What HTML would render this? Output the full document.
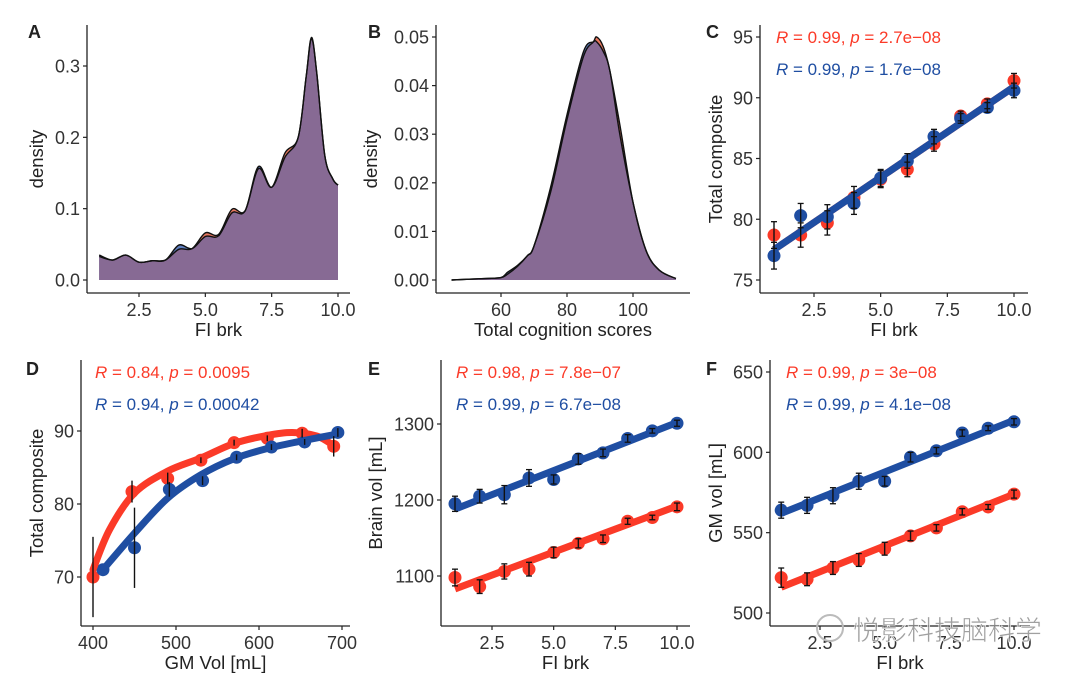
<!DOCTYPE html>
<html><head><meta charset="utf-8">
<style>
html,body{margin:0;padding:0;background:#fff;}
svg{display:block;font-family:"Liberation Sans",Arial,sans-serif;}
.tk{font-size:18px;fill:#333;}
.lab{font-size:18.5px;fill:#222;}
.pl{font-size:18px;font-weight:bold;fill:#222;}
.ann{font-size:17px;}
</style></head>
<body>
<svg id="fig" width="1080" height="677" viewBox="0 0 1080 677" xmlns="http://www.w3.org/2000/svg">
<g id="root"></g>
<text x="853" y="640" font-size="27" fill="#888" fill-opacity="0.8" stroke="#fff" stroke-width="0.6" font-family="'Liberation Sans','Noto Sans CJK SC',sans-serif">悦影科技脑科学</text>
<circle cx="830" cy="628" r="13" fill="none" stroke="#bbb" stroke-width="2"/>
</svg>
<script>
// ---- Panel A data (density of FI brk) ----
const aX = [1,1.5,2,2.5,3,3.5,4,4.5,5,5.5,6,6.5,7,7.5,8,8.5,8.8,9,9.2,9.5,9.8,10];
const aRed = [0.033,0.028,0.035,0.025,0.027,0.028,0.043,0.044,0.066,0.064,0.099,0.097,0.156,0.130,0.178,0.200,0.285,0.338,0.290,0.175,0.142,0.133];
const aBlue = [0.035,0.028,0.035,0.025,0.027,0.028,0.049,0.044,0.061,0.062,0.094,0.097,0.159,0.130,0.172,0.200,0.285,0.340,0.290,0.175,0.142,0.133];
const aYTicks = [0,0.1,0.2,0.3];
const aXTicks = [2.5,5,7.5,10];
// ---- Panel B data ----
const bX = [45,55,60,62,65,68,70,75,80,85,88,89,91,93,96,100,104,108,113];
const bRed = [0,0.0003,0.0005,0.0012,0.0028,0.005,0.007,0.018,0.033,0.046,0.049,0.050,0.048,0.043,0.032,0.016,0.006,0.002,0.0003];
const bBlue = [0,0.0003,0.0005,0.0016,0.003,0.005,0.007,0.019,0.034,0.047,0.049,0.049,0.047,0.043,0.030,0.016,0.006,0.002,0.0003];
const bYTicks = [0,0.01,0.02,0.03,0.04,0.05];
const bXTicks = [60,80,100];
// ---- Panel C data ----
const fi = [1,2,3,4,5,6,7,8,9,10];
const cRed = [78.7,78.7,79.7,81.8,83.3,84.1,86.2,88.5,89.5,91.4];
const cBlue = [77.0,80.3,80.2,81.3,83.4,84.8,86.8,88.3,89.2,90.6];
const cErr = [1.1,1.0,1.0,0.9,0.7,0.6,0.6,0.4,0.4,0.6];
const cFit = [77.5,90.9];
const cYTicks = [75,80,85,90,95];
// ---- Panel D data ----
const dRedX = [400,447,490,530,570,610,652,690];
const dRedY = [70,81.7,83.5,86,88.4,89,89.7,87.9];
const dRedErr = [5.5,1.5,0.8,0.4,0.4,0.4,0.6,1.4];
const dBlueX = [412,450,492,532,573,615,655,695];
const dBlueY = [71,74,82,83.2,86.4,87.8,88.5,89.8];
const dBlueErr = [0,5.5,1,0.6,0.4,0.4,0.4,0.6];
const dRedCurveX = [400,420,450,490,530,570,610,640,670,690];
const dRedCurveY = [71,76.5,81.5,84.5,86.3,88.3,89.4,89.8,89.3,88];
const dBlueCurveX = [412,450,490,530,570,610,650,695];
const dBlueCurveY = [71,76,80.8,84,86.2,87.6,88.6,89.6];
const dYTicks = [70,80,90];
const dXTicks = [400,500,600,700];
// ---- Panel E data ----
const eRed = [1098,1086,1106,1109,1131,1143,1149,1172,1177,1191];
const eBlue = [1195,1205,1207,1229,1227,1254,1262,1281,1291,1301];
const eErrR = [11,9,10,9,7,6,5,4,3,5];
const eErrB = [10,9,12,11,6,7,5,5,3,4];
const eFitR = [1083,1192];
const eFitB = [1188,1302];
const eYTicks = [1100,1200,1300];
// ---- Panel F data ----
const fRed = [522,521,528,533,540,548,553,563,566,574];
const fBlue = [564,567,573,582,582,597,601,612,615,619];
const fErrR = [6,4,4,4,4,3,2,2,1.5,2.5];
const fErrB = [5,5,5,5,3,3,2,2,1.5,2];
const fFitR = [516,574];
const fFitB = [562,620];
const fYTicks = [500,550,600,650];
const fiTicks = [2.5,5,7.5,10];

const RED='#fb3a28', BLUE='#1f4ea2', PURPLE='#876a94';
const NS='http://www.w3.org/2000/svg';
const root=document.getElementById('root');
function el(tag,attrs,parent,text){const e=document.createElementNS(NS,tag);for(const k in attrs)e.setAttribute(k,attrs[k]);if(text!==undefined)e.textContent=text;(parent||root).appendChild(e);return e;}
function lin(d0,d1,r0,r1){return v=>r0+(v-d0)*(r1-r0)/(d1-d0);}
function smooth(pts){let d='M'+pts[0][0]+','+pts[0][1];for(let i=0;i<pts.length-1;i++){const p0=pts[i-1]||pts[i],p1=pts[i],p2=pts[i+1],p3=pts[i+2]||p2;d+=' C'+(p1[0]+(p2[0]-p0[0])/6)+','+(p1[1]+(p2[1]-p0[1])/6)+' '+(p2[0]-(p3[0]-p1[0])/6)+','+(p2[1]-(p3[1]-p1[1])/6)+' '+p2[0]+','+p2[1];}return d;}

function axes(g,o){
  const ax=el('line',{x1:o.x0,y1:o.top,x2:o.x0,y2:o.yb,stroke:'#222','stroke-width':1.3},g);
  
  const bx=el('line',{x1:o.x0,y1:o.yb,x2:o.right,y2:o.yb,stroke:'#222','stroke-width':1.3},g);
  
  o.yt.forEach(v=>{const y=o.sy(v);
    el('line',{x1:o.x0-4,y1:y,x2:o.x0,y2:y,stroke:'#222','stroke-width':1.2},g);
    const t=el('text',{x:o.x0-7,y:y+6.5,'text-anchor':'end',class:'tk'},g,o.yf(v));
    });
  o.xt.forEach(v=>{const x=o.sx(v);
    el('line',{x1:x,y1:o.yb,x2:x,y2:o.yb+4,stroke:'#222','stroke-width':1.2},g);
    const t=el('text',{x:x,y:o.yb+23,'text-anchor':'middle',class:'tk'},g,o.xf(v));
    });
  const xl=el('text',{x:(o.x0+o.right)/2,y:o.yb+43,'text-anchor':'middle',class:'lab'},g,o.xlab);
  
  const yc=(o.top+o.yb)/2;
  const yl=el('text',{x:o.ylx,y:yc,'text-anchor':'middle',class:'lab',transform:'rotate(-90 '+o.ylx+' '+yc+')'},g,o.ylab);
  
  const pl=el('text',{x:o.lx,y:o.ly,class:'pl'},g,o.letter);
  
}
function ann(g,x,y,color,r,p){
  const t=el('text',{x:x,y:y,class:'ann',fill:color},g);
  
  el('tspan',{'font-style':'italic'},t,'R');el('tspan',{},t,' = '+r+', ');el('tspan',{'font-style':'italic'},t,'p');el('tspan',{},t,' = '+p);
}
const f1=v=>v.toFixed(1), f2=v=>v.toFixed(2), f0=v=>String(v);

// Panel A
(function(){const g=el('g',{});
  const sx=lin(2.5,10,139,338), sy=lin(0,0.3,280,66);
  [[aRed,'#e8785f'],[aBlue,'#5f7fbf']].forEach(([arr,c],k)=>{
    const pts=aX.map((x,i)=>[sx(x),sy(arr[i])]);
    const d=smooth(pts)+' L'+sx(10)+','+sy(0)+' L'+sx(1)+','+sy(0)+' Z';
    const p=el('path',{d:d,fill:c},g);});
  const ov=aX.map((x,i)=>[sx(x),sy(Math.min(aRed[i],aBlue[i]))]);
  const po=el('path',{d:smooth(ov)+' L'+sx(10)+','+sy(0)+' L'+sx(1)+','+sy(0)+' Z',fill:PURPLE},g);
  
  [aRed,aBlue].forEach(arr=>{const l=el('path',{d:smooth(aX.map((x,i)=>[sx(x),sy(arr[i])])),fill:'none',stroke:'#111','stroke-width':1.4},g);});
  axes(g,{x0:87,top:25,yb:293,right:350,sx,sy,yt:aYTicks,xt:aXTicks,yf:f1,xf:f1,xlab:'FI brk',ylab:'density',ylx:43,letter:'A',lx:28,ly:38});
})();
// Panel B
(function(){const g=el('g',{});
  const sx=lin(60,100,501,633), sy=lin(0,0.05,280,37);
  [[bRed,'#e8785f'],[bBlue,'#5f7fbf']].forEach(([arr,c],k)=>{
    const pts=bX.map((x,i)=>[sx(x),sy(arr[i])]);
    const p=el('path',{d:smooth(pts)+' L'+sx(113)+','+sy(0)+' L'+sx(45)+','+sy(0)+' Z',fill:c},g);});
  const ov=bX.map((x,i)=>[sx(x),sy(Math.min(bRed[i],bBlue[i]))]);
  const po=el('path',{d:smooth(ov)+' L'+sx(113)+','+sy(0)+' L'+sx(45)+','+sy(0)+' Z',fill:PURPLE},g);
  
  [bRed,bBlue].forEach(arr=>{const l=el('path',{d:smooth(bX.map((x,i)=>[sx(x),sy(arr[i])])),fill:'none',stroke:'#111','stroke-width':1.4},g);});
  axes(g,{x0:436,top:25,yb:293,right:690,sx,sy,yt:bYTicks,xt:bXTicks,yf:f2,xf:f0,xlab:'Total cognition scores',ylab:'density',ylx:377,letter:'B',lx:368,ly:38});
})();

function errbar(g,x,y0,y1,cap){const e=el('g',{},g);
  el('line',{x1:x,y1:y0,x2:x,y2:y1,stroke:'#111','stroke-width':1.4},e);
  if(cap){el('line',{x1:x-3,y1:y0,x2:x+3,y2:y0,stroke:'#111','stroke-width':1.3},e);el('line',{x1:x-3,y1:y1,x2:x+3,y2:y1,stroke:'#111','stroke-width':1.3},e);}}
function dot(g,x,y,c,name){const d=el('circle',{cx:x,cy:y,r:6.5,fill:c},g);}
function fitline(g,sx,sy,f,c,name){const l=el('line',{x1:sx(1),y1:sy(f[0]),x2:sx(10),y2:sy(f[1]),stroke:c,'stroke-width':7,'stroke-linecap':'butt'},g);}
function linPanel(o){const g=el('g',{});
  const sx=o.sx,sy=o.sy;
  fi.forEach((x,i)=>dot(g,sx(x),sy(o.red[i]),RED,'point-red'));
  fitline(g,sx,sy,o.fitR,RED,'fit-line-red');
  fi.forEach((x,i)=>dot(g,sx(x),sy(o.blue[i]),BLUE,'point-blue'));
  fitline(g,sx,sy,o.fitB,BLUE,'fit-line-blue');
  fi.forEach((x,i)=>{errbar(g,sx(x),sy(o.red[i]-o.errR[i]),sy(o.red[i]+o.errR[i]),true);errbar(g,sx(x),sy(o.blue[i]-o.errB[i]),sy(o.blue[i]+o.errB[i]),true);});
  axes(g,o.ax);
  ann(g,o.annX,o.annY,RED,o.rR,o.pR);ann(g,o.annX,o.annY+32,BLUE,o.rB,o.pB);
}
// Panel C
(function(){const sx=lin(2.5,10,814,1014), sy=lin(75,95,280,37);
  linPanel({name:'panel-c',sx,sy,red:cRed,blue:cBlue,errR:cErr,errB:cErr,fitR:cFit,fitB:cFit,
    ax:{x0:760,top:25,yb:293,right:1028,sx,sy,yt:cYTicks,xt:fiTicks,yf:f0,xf:f1,xlab:'FI brk',ylab:'Total composite',ylx:722,letter:'C',lx:706,ly:38},
    annX:776,annY:43,rR:'0.99',pR:'2.7e\u221208',rB:'0.99',pB:'1.7e\u221208'});})();
// Panel E
(function(){const sx=lin(2.5,10,492,677), sy=lin(1100,1300,576,424);
  linPanel({name:'panel-e',sx,sy,red:eRed,blue:eBlue,errR:eErrR,errB:eErrB,fitR:eFitR,fitB:eFitB,
    ax:{x0:441,top:360,yb:626,right:690,sx,sy,yt:eYTicks,xt:fiTicks,yf:f0,xf:f1,xlab:'FI brk',ylab:'Brain vol [mL]',ylx:382,letter:'E',lx:368,ly:375},
    annX:456,annY:378,rR:'0.98',pR:'7.8e\u221207',rB:'0.99',pB:'6.7e\u221208'});})();
// Panel F
(function(){const sx=lin(2.5,10,820,1014), sy=lin(500,650,613,372);
  linPanel({name:'panel-f',sx,sy,red:fRed,blue:fBlue,errR:fErrR,errB:fErrB,fitR:fFitR,fitB:fFitB,
    ax:{x0:770,top:360,yb:626,right:1030,sx,sy,yt:fYTicks,xt:fiTicks,yf:f0,xf:f1,xlab:'FI brk',ylab:'GM vol [mL]',ylx:722,letter:'F',lx:706,ly:375},
    annX:786,annY:378,rR:'0.99',pR:'3e\u221208',rB:'0.99',pB:'4.1e\u221208'});})();
// Panel D
(function(){const g=el('g',{});
  const sx=lin(400,700,93,342), sy=lin(70,90,577,431);
  dRedX.forEach((x,i)=>dot(g,sx(x),sy(dRedY[i]),RED,'point-red'));
  dBlueX.forEach((x,i)=>dot(g,sx(x),sy(dBlueY[i]),BLUE,'point-blue'));
  const rc=el('path',{d:smooth(dRedCurveX.map((x,i)=>[sx(x),sy(dRedCurveY[i])])),fill:'none',stroke:RED,'stroke-width':7,'stroke-linecap':'round'},g);
  
  const bc=el('path',{d:smooth(dBlueCurveX.map((x,i)=>[sx(x),sy(dBlueCurveY[i])])),fill:'none',stroke:BLUE,'stroke-width':7,'stroke-linecap':'round'},g);
  
  dRedX.forEach((x,i)=>{if(dRedErr[i])errbar(g,sx(x),sy(dRedY[i]-dRedErr[i]),sy(dRedY[i]+dRedErr[i]),false);});
  dBlueX.forEach((x,i)=>{if(dBlueErr[i])errbar(g,sx(x),sy(dBlueY[i]-dBlueErr[i]),sy(dBlueY[i]+dBlueErr[i]),false);});
  axes(g,{x0:81,top:360,yb:626,right:350,sx,sy,yt:dYTicks,xt:dXTicks,yf:f0,xf:f0,xlab:'GM Vol [mL]',ylab:'Total composite',ylx:43,letter:'D',lx:26,ly:375});
  ann(g,95,378,RED,'0.84','0.0095');ann(g,95,410,BLUE,'0.94','0.00042');
})();
</script>
</body></html>
